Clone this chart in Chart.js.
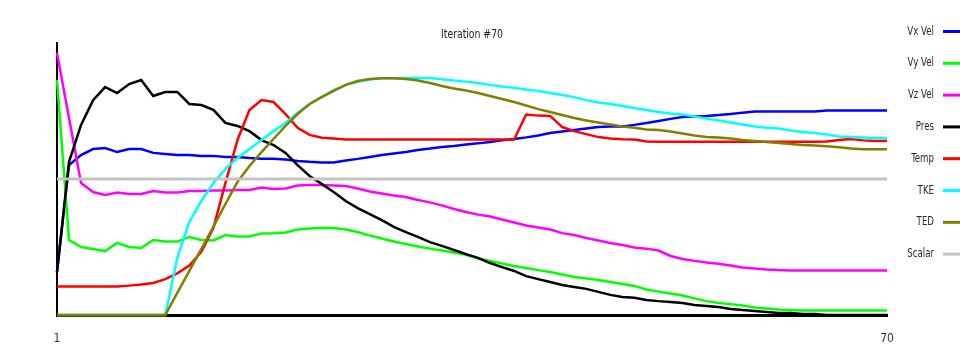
<!DOCTYPE html>
<html>
<head>
<meta charset="utf-8">
<style>
  html, body { margin: 0; padding: 0; background: #ffffff; }
  #wrap { width: 960px; height: 358px; }
</style>
<script src="https://cdn.jsdelivr.net/npm/chart.js@4.4.1/dist/chart.umd.min.js"></script>
</head>
<body>
<div id="wrap"><canvas id="residuals" width="960" height="358"></canvas></div>
<script>
// Iteration numbers along the x axis
const iterations = [1, 2, 3, 4, 5, 6, 7, 8, 9, 10,
  11, 12, 13, 14, 15, 16, 17, 18, 19, 20,
  21, 22, 23, 24, 25, 26, 27, 28, 29, 30,
  31, 32, 33, 34, 35, 36, 37, 38, 39, 40,
  41, 42, 43, 44, 45, 46, 47, 48, 49, 50,
  51, 52, 53, 54, 55, 56, 57, 58, 59, 60,
  61, 62, 63, 64, 65, 66, 67, 68, 69, 70];

// Normalised monitor values per iteration (0..100)
const vxVel = [15.8, 55.1, 58.8, 61.0, 61.4, 59.9, 61.0, 61.0, 59.6, 59.2,
  58.8, 58.8, 58.5, 58.5, 58.1, 58.1, 57.7, 57.4, 57.4, 57.2,
  56.6, 56.3, 56.1, 56.1, 56.8, 57.4, 58.1, 58.8, 59.4, 59.9,
  60.7, 61.2, 61.8, 62.1, 62.7, 63.1, 63.6, 64.2, 64.7, 65.3,
  66.0, 66.9, 67.5, 68.0, 68.6, 69.1, 69.3, 69.3, 69.9, 70.6,
  71.3, 72.1, 72.8, 73.0, 73.2, 73.5, 73.9, 74.4, 74.8, 74.8,
  74.8, 74.8, 74.8, 74.8, 75.2, 75.2, 75.2, 75.2, 75.2, 75.2];

const vyVel = [86.4, 27.6, 25.0, 24.3, 23.5, 26.5, 25.0, 24.6, 27.6, 27.0,
  27.0, 28.7, 27.6, 27.4, 29.4, 28.9, 28.9, 30.0, 30.1, 30.3,
  31.4, 31.8, 32.0, 32.0, 31.4, 30.5, 29.2, 28.1, 27.0, 26.1,
  25.2, 24.4, 23.7, 23.0, 22.1, 20.8, 19.9, 18.9, 18.0, 17.3,
  16.5, 15.8, 14.9, 14.0, 13.4, 12.9, 12.1, 11.4, 10.7, 9.4,
  8.6, 7.9, 7.2, 6.1, 5.1, 4.4, 4.0, 3.5, 2.8, 2.4,
  2.0, 1.8, 1.7, 1.7, 1.7, 1.7, 1.7, 1.7, 1.7, 1.7];

const vzVel = [96.3, 72.4, 48.5, 45.2, 44.1, 45.0, 44.5, 44.5, 45.6, 45.0,
  45.0, 45.6, 45.6, 45.8, 45.8, 46.0, 46.0, 46.9, 46.3, 46.5,
  47.6, 47.8, 47.8, 47.6, 47.4, 46.5, 45.4, 44.7, 43.9, 43.4,
  42.3, 41.4, 40.3, 39.0, 37.9, 36.9, 36.2, 35.1, 34.0, 32.9,
  32.2, 31.4, 30.1, 29.4, 28.3, 27.4, 26.5, 25.7, 24.8, 24.4,
  23.7, 21.7, 20.6, 19.9, 19.3, 18.8, 18.2, 17.5, 17.1, 16.7,
  16.5, 16.4, 16.4, 16.4, 16.4, 16.4, 16.4, 16.4, 16.4, 16.4];

const pres = [15.8, 56.3, 69.9, 79.0, 83.8, 81.6, 84.9, 86.4, 80.5, 82.0,
  82.0, 77.6, 77.2, 75.4, 70.6, 69.5, 67.6, 64.3, 62.5, 59.6,
  55.1, 51.1, 48.2, 45.2, 41.9, 39.3, 37.1, 34.9, 32.4, 30.5,
  28.7, 26.8, 25.4, 23.9, 22.4, 21.0, 19.1, 17.6, 16.2, 14.3,
  13.2, 12.1, 11.0, 10.3, 9.6, 8.5, 7.4, 6.6, 6.3, 5.5,
  5.1, 4.8, 4.4, 3.7, 3.3, 2.9, 2.2, 1.8, 1.5, 1.1,
  0.7, 0.7, 0.4, 0.4, 0, 0, 0, 0, 0, 0];

const temp = [10.5, 10.5, 10.5, 10.5, 10.5, 10.5, 10.8, 11.2, 11.8, 13.2,
  15.3, 18.2, 23.2, 32.0, 48.5, 64.3, 75.4, 79.0, 78.3, 73.9,
  68.8, 66.2, 65.2, 64.9, 64.5, 64.5, 64.5, 64.5, 64.5, 64.5,
  64.5, 64.5, 64.5, 64.5, 64.5, 64.5, 64.5, 64.5, 64.5, 73.7,
  73.3, 73.2, 69.1, 67.6, 66.5, 65.4, 64.9, 64.6, 64.5, 63.8,
  63.7, 63.7, 63.7, 63.7, 63.7, 63.7, 63.7, 63.7, 63.7, 63.7,
  63.7, 63.7, 63.7, 63.7, 63.8, 64.3, 64.7, 64.2, 64.0, 64.0];

const tke = [0, 0, 0, 0, 0, 0, 0, 0, 0, 0,
  21.0, 34.2, 41.9, 48.5, 53.7, 57.7, 61.0, 64.3, 67.6, 70.6,
  74.3, 77.6, 80.1, 82.7, 84.6, 85.7, 86.6, 87.0, 87.0, 87.1,
  87.1, 87.1, 86.7, 86.2, 85.8, 85.3, 84.6, 84.0, 83.5, 82.9,
  82.4, 81.6, 80.9, 80.1, 79.0, 78.1, 77.6, 76.8, 76.1, 75.4,
  74.6, 74.1, 73.7, 73.0, 72.2, 71.5, 70.8, 70.0, 69.3, 68.8,
  68.6, 67.8, 67.3, 66.9, 66.4, 65.6, 65.4, 65.3, 65.1, 65.0];

const ted = [0, 0, 0, 0, 0, 0, 0, 0, 0, 0,
  8.1, 16.2, 24.3, 32.4, 40.8, 48.9, 54.8, 59.9, 64.7, 69.5,
  73.9, 77.6, 80.1, 82.4, 84.6, 86.0, 86.8, 87.0, 87.0, 86.8,
  86.2, 85.3, 84.2, 83.3, 82.5, 81.6, 80.5, 79.4, 78.3, 77.0,
  75.7, 74.6, 73.5, 72.4, 71.5, 70.8, 70.0, 69.3, 68.8, 68.2,
  68.0, 67.5, 66.7, 66.0, 65.4, 65.3, 64.9, 64.3, 64.0, 63.6,
  63.2, 62.9, 62.5, 62.3, 62.0, 61.7, 61.2, 60.9, 60.9, 60.9];

const scalar = [50, 50, 50, 50, 50, 50, 50, 50, 50, 50,
  50, 50, 50, 50, 50, 50, 50, 50, 50, 50,
  50, 50, 50, 50, 50, 50, 50, 50, 50, 50,
  50, 50, 50, 50, 50, 50, 50, 50, 50, 50,
  50, 50, 50, 50, 50, 50, 50, 50, 50, 50,
  50, 50, 50, 50, 50, 50, 50, 50, 50, 50,
  50, 50, 50, 50, 50, 50, 50, 50, 50, 50];

const seriesNames = ['Vx Vel', 'Vy Vel', 'Vz Vel', 'Pres', 'Temp', 'TKE', 'TED', 'Scalar'];
const seriesValues = [vxVel, vyVel, vzVel, pres, temp, tke, ted, scalar];
const seriesColors = ['#0000ff', '#00ff00', '#ff00ff', '#000000', '#ff0000', '#00ffff', '#808000', '#c4c4c4'];
const chartTitle = 'Iteration #70';

const FONT = "'DejaVu Sans Condensed', 'Liberation Sans', sans-serif";

// Narrow text helper: squeezes the glyphs horizontally around the anchor point
function narrowText(ctx, text, x, y, align, squeeze) {
  ctx.save();
  ctx.translate(x, y);
  ctx.scale(squeeze, 1);
  ctx.textAlign = align;
  ctx.fillText(text, 0, 0);
  ctx.restore();
}

// Title over the plot plus the key down the right-hand edge
const sideLegend = {
  id: 'sideLegend',
  afterDraw(chart) {
    const ctx = chart.ctx;
    const area = chart.chartArea;
    ctx.save();
    ctx.font = '12px ' + FONT;
    ctx.textBaseline = 'middle';
    ctx.fillStyle = '#222222';
    narrowText(ctx, chartTitle, (area.left + area.right) / 2, 35, 'center', 0.86);
    chart.data.datasets.forEach((ds, i) => {
      const y = 31.5 + i * 31.8;
      ctx.fillStyle = '#2a2a2a';
      narrowText(ctx, ds.label, 934, y, 'right', 0.8);
      ctx.strokeStyle = ds.borderColor;
      ctx.lineWidth = 3;
      ctx.beginPath();
      ctx.moveTo(943, y);
      ctx.lineTo(962, y);
      ctx.stroke();
    });
    ctx.restore();
  }
};

const lastIndex = iterations.length - 1;

new Chart(document.getElementById('residuals'), {
  type: 'line',
  data: {
    labels: iterations,
    datasets: seriesNames.map((name, i) => ({
      label: name,
      data: seriesValues[i],
      borderColor: seriesColors[i],
      backgroundColor: seriesColors[i],
      borderWidth: name === 'Scalar' ? 3 : 2.5,
      pointRadius: 0,
      tension: 0,
      fill: false,
      clip: false,
      order: seriesNames.length - 1 - i
    }))
  },
  options: {
    responsive: false,
    animation: false,
    events: [],
    layout: { padding: { left: 57, right: 73, top: 43, bottom: 0 } },
    plugins: {
      legend: { display: false },
      tooltip: { enabled: false },
      title: { display: false }
    },
    scales: {
      x: {
        type: 'category',
        grid: { display: false, drawTicks: false },
        border: { display: true, color: '#000000', width: 3 },
        afterFit(scale) { scale.height = 43; },
        ticks: {
          autoSkip: false,
          maxRotation: 0,
          padding: 17,
          color: '#333344',
          font: { family: FONT, size: 12 },
          callback: (value, index) => (index === 0 || index === lastIndex) ? String(iterations[index]) : ''
        }
      },
      y: {
        min: 0,
        max: 100,
        grid: { display: false, drawTicks: false },
        border: { display: true, color: '#000000', width: 2 },
        ticks: { display: false }
      }
    }
  },
  plugins: [sideLegend]
});
</script>
</body>
</html>
